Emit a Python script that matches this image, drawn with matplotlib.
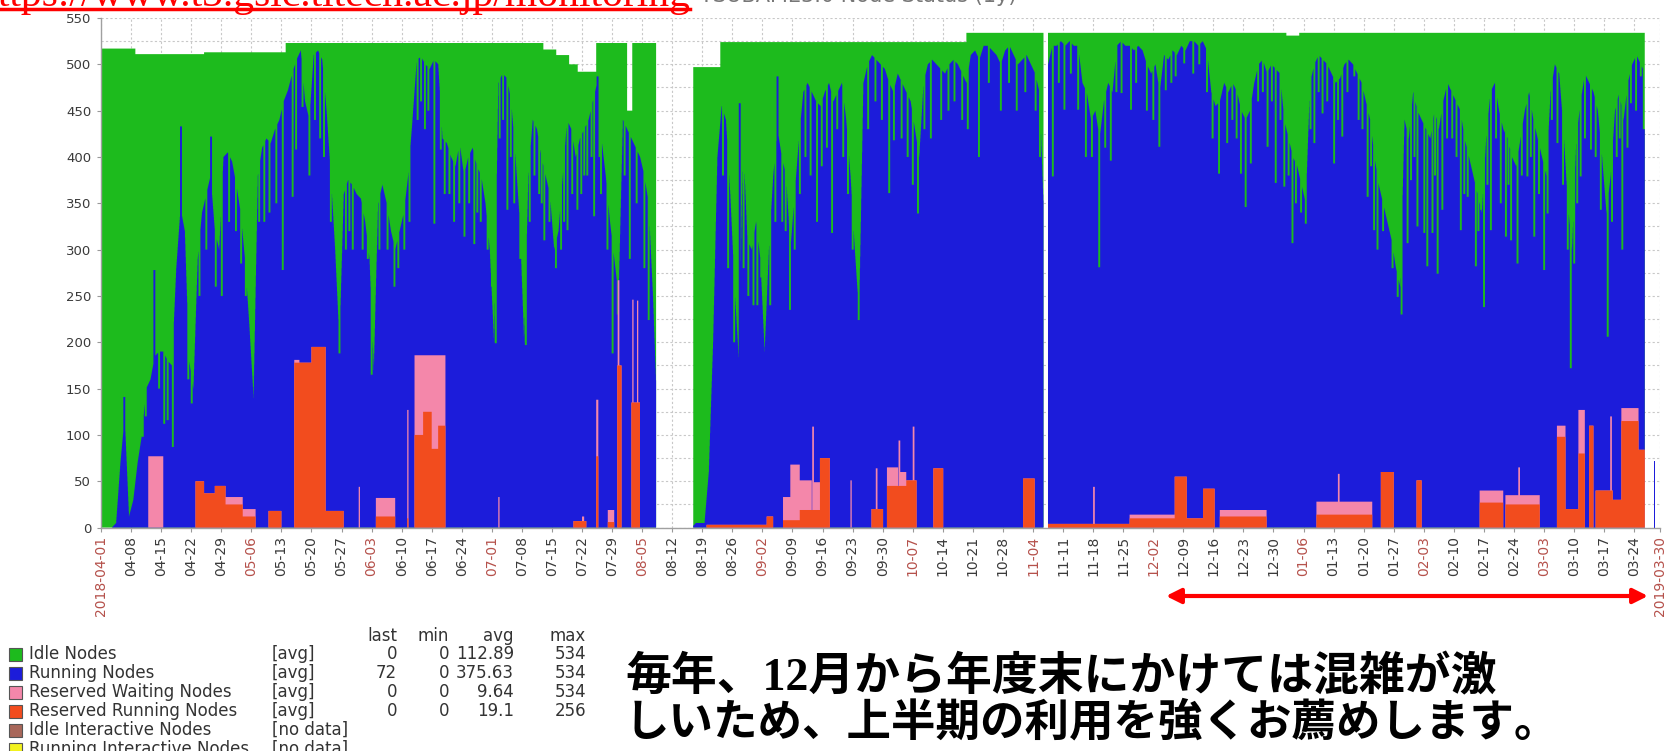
import numpy as np
import pandas as pd
import matplotlib.pyplot as plt
from matplotlib.patches import Rectangle

W, H = 1668, 751

# ---------------- data ----------------
start_date = pd.Timestamp('2018-04-01')
n_days = 363

# top of the blue area (running + reserved nodes), one value per day
busy_nodes = [
    0, 0, 0, 5, 70, 120, 12,
    30, 70, 100, 150, 160, 185, 190,
    190, 180, 175, 280, 345, 320, 180,
    150, 290, 340, 360, 380, 320, 300,
    400, 405, 395, 370, 340, 290, 220,
    140, 380, 410, 420, 415, 430, 440,
    460, 472, 490, 505, 515, 460, 440,
    510, 515, 505, 450, 380, 300, 200,
    360, 375, 370, 360, 355, 330, 290,
    170, 350, 370, 350, 320, 300, 320,
    340, 380, 440, 505, 508, 500, 495,
    505, 500, 420, 415, 400, 390, 415,
    380, 400, 410, 390, 380, 350, 300,
    200, 480, 490, 485, 460, 400, 330,
    200, 380, 440, 430, 400, 380, 360,
    300, 320, 380, 440, 430, 400, 420,
    430, 440, 460, 480, 420, 380, 330,
    290, 250, 440, 430, 420, 410, 400,
    380, 350, 250, 120, 0, 0, 0,
    0, 0, 0, 0, 0, 5, 5,
    5, 60, 200, 400, 455, 440, 360,
    260, 180, 420, 310, 300, 330, 290,
    190, 300, 380, 430, 400, 380, 300,
    360, 420, 470, 480, 470, 460, 455,
    470, 480, 460, 470, 480, 440, 380,
    300, 230, 480, 500, 510, 505, 500,
    495, 480, 470, 490, 480, 470, 460,
    430, 400, 480, 500, 505, 500, 495,
    490, 500, 505, 500, 490, 480, 510,
    515, 505, 520, 520, 515, 510, 500,
    515, 520, 510, 500, 505, 510, 500,
    490, 470, 340, 500, 520, 520, 525,
    520, 525, 520, 520, 480, 470, 440,
    450, 420, 460, 480, 470, 520, 525,
    520, 520, 515, 520, 515, 500, 490,
    500, 470, 510, 505, 515, 510, 520,
    515, 525, 525, 520, 525, 515, 470,
    455, 460, 480, 470, 480, 470, 450,
    440, 450, 480, 500, 505, 490, 500,
    495, 490, 440, 420, 400, 390, 370,
    350, 480, 500, 510, 505, 500, 490,
    480, 485, 500, 505, 500, 490, 480,
    460, 440, 400, 370, 350, 330, 310,
    280, 260, 440, 420, 470, 450, 440,
    430, 420, 450, 430, 460, 480, 470,
    460, 450, 420, 400, 380, 360, 340,
    420, 470, 480, 450, 430, 420, 400,
    390, 420, 450, 470, 440, 420, 400,
    380, 470, 500, 490, 430, 350, 300,
    420, 460, 490, 480, 470, 450, 400,
    340, 380, 450, 470, 440, 480, 500,
    510, 500, 490, 72, 72, 72,
]

# short drops of the busy level (thin green lines into the blue): (day, value)
busy_dips = [
    (9.5, 98), (10.2, 120), (13.3, 150), (14.5, 112), (15.3, 116), (16.5, 87),
    (20.1, 160), (20.9, 134), (22.7, 250), (24.3, 300), (26.5, 260), (27.9, 250),
    (29.6, 330), (31.2, 320), (32.4, 285), (33.5, 250), (36.6, 330), (37.8, 330),
    (39.0, 340), (40.6, 350), (42.1, 278), (44.4, 357), (45.2, 408), (46.7, 454),
    (48.3, 380), (49.6, 440), (50.8, 420), (51.7, 400), (53.3, 330), (55.3, 188),
    (56.8, 300), (57.6, 320), (58.4, 300), (60.7, 300), (61.9, 290), (62.8, 165),
    (64.6, 300), (66.5, 300), (68.1, 260), (69.0, 280), (70.4, 300), (71.6, 330),
    (73.5, 440), (74.3, 460), (75.2, 430), (76.0, 450), (77.4, 328), (78.9, 408),
    (79.8, 360), (80.9, 360), (82.0, 330), (83.2, 350), (84.4, 314), (85.5, 350),
    (86.7, 306), (87.4, 340), (88.2, 330), (89.8, 300), (90.8, 260), (91.7, 199),
    (92.6, 420), (93.4, 440), (94.4, 343), (95.2, 400), (96.0, 350), (97.4, 290),
    (98.7, 197), (99.6, 330), (100.7, 380), (101.8, 360), (102.4, 350), (103.0, 310),
    (104.2, 330), (105.7, 280), (106.9, 300), (107.6, 330), (108.4, 321), (109.5, 360),
    (110.7, 343), (111.6, 360), (112.3, 380), (113.0, 380), (114.0, 400), (114.6, 336),
    (115.8, 400), (116.2, 360), (117.7, 300), (118.9, 188), (120.1, 230),
    (121.7, 380), (122.9, 290), (124.5, 350), (126.3, 280), (127.3, 224),
    (144.6, 380), (145.8, 280), (147.2, 200), (149.4, 280), (150.5, 250), (151.7, 240),
    (152.6, 240), (153.5, 270), (155.6, 240), (156.8, 330), (158.4, 330), (159.2, 320),
    (160.2, 235), (161.3, 300), (162.5, 360), (163.8, 400), (165.0, 380), (166.5, 330),
    (167.6, 390), (168.8, 410), (170.0, 318), (171.2, 430), (172.6, 400), (173.7, 360),
    (174.8, 300), (176.2, 224), (178.4, 430), (180.1, 460), (181.6, 440), (183.3, 361),
    (184.4, 418), (186.2, 420), (187.6, 400), (188.8, 370), (190.0, 339), (191.5, 430),
    (193.0, 420), (195.4, 440), (197.1, 450), (198.5, 460), (200.3, 440), (201.6, 430),
    (204.2, 400), (206.5, 480), (209.3, 450), (211.2, 480), (213.0, 450), (215.0, 470),
    (217.4, 450), (218.4, 400), (221.4, 379), (222.8, 480), (224.1, 451), (225.6, 490),
    (227.3, 451), (229.1, 400), (230.5, 400), (232.2, 281), (233.6, 410), (234.9, 396),
    (236.2, 470), (237.4, 469), (239.6, 451), (240.8, 480),
    (243.3, 450), (244.8, 440), (246.2, 411), (247.7, 472), (249.0, 480), (250.0, 487),
    (252.0, 501), (254.1, 490), (255.5, 500), (257.3, 470), (258.6, 420), (260.1, 382),
    (262.0, 415), (263.2, 440), (264.2, 420), (265.2, 382), (266.3, 346), (267.5, 393),
    (269.2, 460), (270.3, 470), (271.4, 411), (272.4, 460), (273.3, 372), (274.4, 440),
    (275.3, 368), (276.3, 380), (277.2, 307), (278.0, 350), (279.2, 340), (280.3, 328),
    (281.4, 430), (282.3, 415), (283.3, 470), (284.2, 447), (285.3, 460), (286.9, 393),
    (287.8, 440), (288.8, 422), (290.0, 470), (291.6, 487), (292.6, 440), (293.5, 430),
    (294.7, 357), (295.5, 390), (296.2, 321), (297.0, 300), (298.3, 320), (299.7, 335),
    (300.5, 280), (301.7, 249), (302.6, 230), (304.0, 307), (304.8, 375), (305.6, 400),
    (306.3, 325), (307.9, 318), (308.6, 282), (309.8, 318), (310.4, 380), (311.0, 274),
    (312.1, 343), (313.2, 420), (314.4, 420), (315.4, 400), (316.4, 321), (317.2, 360),
    (318.0, 357), (319.9, 282), (320.5, 320), (321.1, 343), (321.8, 238), (322.6, 370),
    (323.4, 321), (324.6, 420), (325.7, 350), (326.9, 314), (327.5, 370), (328.1, 310),
    (329.6, 285), (330.6, 380), (331.9, 379), (332.7, 400), (333.5, 314), (334.6, 360),
    (335.8, 278), (336.6, 339), (337.6, 440), (338.9, 415), (340.2, 370), (341.3, 300),
    (342.0, 172), (342.8, 285), (343.5, 350), (344.3, 379), (345.3, 420), (346.7, 408),
    (347.8, 400), (349.0, 343), (350.6, 206), (351.6, 330), (352.7, 400), (353.4, 420),
    (354.0, 300), (355.2, 410), (356.0, 458), (357.2, 450), (358.3, 487), (359.0, 430),
]

# short rises of the busy level (thin blue lines into the green)
peak_day = [5.2, 12.2, 18.4, 25.4, 115.4, 148.5, 157.3]
peak_val = [141, 278, 433, 422, 487, 458, 487]

# online nodes (top of the green area), value holds from the given day; nan = no data
online_from = [0, 8, 24, 43, 103, 106, 109, 111, 115.3, 122.5, 123.7, 129.3, 137.9,
               144.2, 201.5, 219.5, 220.5, 276, 279, 359.5, 361.6, 361.9]
online_val = [517, 511, 513, 523, 516, 510, 500, 492, 523, 450, 523, np.nan, 497,
              524, 534, np.nan, 534, 531, 534, np.nan, 72, np.nan]

# Reserved Running Nodes blocks
rr_from = [22, 24, 26.5, 29, 33, 39, 45, 49, 52.3, 64, 71.3, 73, 75, 77, 78.5, 110,
           115.3, 118, 120.2, 123.5, 141, 155, 158.8, 162.7, 167.4, 179.4, 183, 187.5,
           193.8, 214.7, 220.5, 239.5, 250, 252.8, 256.6, 260.5, 283, 298, 306.3, 321,
           327, 339, 341, 344, 346.5, 348, 352, 354, 358]
rr_to = [24, 26.5, 29, 33, 36, 42, 49, 52.3, 56.5, 68.5, 71.6, 75, 77, 78.5, 80.2, 113,
         115.8, 119.5, 121.2, 125.5, 155, 156.5, 162.7, 167.4, 169.7, 182.1, 187.5, 189.9,
         196.1, 217.4, 239.5, 250, 252.8, 256.6, 259.3, 271.4, 296, 301, 307.5, 326.5,
         335, 341, 344, 345.5, 347.5, 352, 354, 358, 359.5]
rr_val = [50, 37, 45, 25, 12, 18, 178, 195, 18, 12, 10, 100, 125, 85, 110, 7,
          77, 6, 175, 135, 3, 12, 8, 19, 75, 20, 45, 51,
          64, 53, 4, 10, 55, 10, 42, 12, 14, 60, 51, 27,
          25, 98, 20, 80, 110, 40, 30, 115, 84]

# Reserved Waiting Nodes blocks
rw_from = [11, 29, 33, 45, 60, 64, 71.3, 73, 75, 77, 78.5, 92.5, 112, 115.3, 118,
           120.3, 123.7, 124.8, 158.8, 160.5, 162.7, 165.6, 166, 174.5, 180.4, 183,
           185.7, 186.1, 189, 231, 239.5, 260.5, 283, 288, 321, 327, 330, 339, 344,
           351.4, 354]
rw_to = [14.5, 33, 36, 46.2, 60.3, 68.5, 71.6, 75, 77, 78.5, 80.2, 92.8, 112.5, 115.8,
         119.5, 120.7, 124, 125.1, 160.5, 162.7, 165.5, 166, 167.4, 174.8, 180.8, 185.6,
         186.1, 187.5, 189.4, 231.4, 250, 271.4, 296, 288.4, 326.5, 335, 330.4, 341,
         345.5, 351.8, 358]
rw_val = [77, 8, 8, 3, 44, 20, 117, 86, 61, 101, 76, 33, 5, 61, 13,
          92, 111, 110, 25, 60, 32, 90, 30, 51, 44, 20,
          49, 15, 58, 40, 4, 7, 14, 30, 13, 10, 30, 12, 47,
          80, 14]

legend_names = ['Idle Nodes', 'Running Nodes', 'Reserved Waiting Nodes',
                'Reserved Running Nodes', 'Idle Interactive Nodes',
                'Running Interactive Nodes']
legend_func = ['[avg]', '[avg]', '[avg]', '[avg]', '[no data]', '[no data]']
legend_last = ['0', '72', '0', '0', '', '']
legend_min = ['0', '0', '0', '0', '', '']
legend_avg = ['112.89', '375.63', '9.64', '19.1', '', '']
legend_max = ['534', '534', '534', '256', '', '']
legend_colors = ['#1DBB1D', '#1C1CDA', '#F487AA', '#F24C1E', '#A8675A', '#F2F21E']

c_idle, c_run, c_rw, c_rr = legend_colors[:4]

# ---------------- build the stacked series ----------------
t = np.arange(0, n_days, 0.05)
# daily samples sit at mid-day, joined by straight segments like a line chart
busy_t = np.interp(t, np.arange(n_days) + 0.5, np.asarray(busy_nodes, float))
for d, v in busy_dips:
    m = (t >= d) & (t < d + 0.45)
    busy_t[m] = np.minimum(busy_t[m], v)
for d, v in zip(peak_day, peak_val):
    m = (t >= d) & (t < d + 0.45)
    busy_t[m] = np.maximum(busy_t[m], v)

online_t = np.asarray(online_val, float)[np.searchsorted(online_from, t, side='right') - 1]

rr_t = np.zeros_like(t)
for a, b, v in zip(rr_from, rr_to, rr_val):
    rr_t[(t >= a) & (t < b)] += v
rw_t = np.zeros_like(t)
for a, b, v in zip(rw_from, rw_to, rw_val):
    rw_t[(t >= a) & (t < b)] += v

top_rr = rr_t
top_rw = rr_t + rw_t
top_run = np.maximum(busy_t, top_rw)
top_idle = np.maximum(online_t, top_run)
gap = np.isnan(online_t)
for arr in (top_rr, top_rw, top_run, top_idle):
    arr[gap] = np.nan

# ---------------- figure ----------------
fig = plt.figure(figsize=(W / 100, H / 100), dpi=100)
ax = fig.add_axes([101 / W, 1 - 527.6 / H, (1660 - 101) / W, (527.6 - 18) / H])

for top, col in [(top_idle, c_idle), (top_run, c_run), (top_rw, c_rw), (top_rr, c_rr)]:
    ax.fill_between(t, 0, top, step='post', color=col, linewidth=0, zorder=2)

ax.set_xlim(0, n_days)
ax.set_ylim(0, 550)

tick_days = list(range(0, 358, 7)) + [n_days]
tick_labels, tick_colors = [], []
for i, d in enumerate(tick_days):
    dt = start_date + pd.Timedelta(days=d)
    if i == 0 or i == len(tick_days) - 1:
        tick_labels.append(dt.strftime('%Y-%m-%d'))
        tick_colors.append('#B5514B')
    else:
        tick_labels.append(dt.strftime('%m-%d'))
        tick_colors.append('#B5514B' if dt.day <= 7 else '#3A3A3A')
ax.set_xticks(tick_days)
ax.set_xticklabels(tick_labels, rotation=90, fontsize=10, va='top', ha='center')
for lab, col in zip(ax.get_xticklabels(), tick_colors):
    lab.set_color(col)

ax.set_yticks(np.arange(0, 551, 50))
ax.set_yticks(np.arange(25, 551, 50), minor=True)
ax.tick_params(axis='y', which='major', labelsize=9.5, labelcolor='#3A3A3A',
               length=3, color='#999999', pad=4)
ax.tick_params(axis='y', which='minor', length=0)
ax.tick_params(axis='x', length=3, color='#999999', pad=3)

ax.set_axisbelow(True)
ax.grid(True, which='both', axis='y', color='#c8c8c8', linestyle=(0, (2, 2)), linewidth=0.8)
ax.grid(True, which='major', axis='x', color='#c8c8c8', linestyle=(0, (2, 2)), linewidth=0.8)
for s in ('top', 'right'):
    ax.spines[s].set_visible(False)
for s in ('left', 'bottom'):
    ax.spines[s].set_color('#a0a0a0')
    ax.spines[s].set_linewidth(1)

# overlay in pixel coordinates for title, legend, message and arrow
ov = fig.add_axes([0, 0, 1, 1])
ov.set_xlim(0, W)
ov.set_ylim(H, 0)
ov.axis('off')

ov.text(690, 6, 'https://www.t3.gsic.titech.ac.jp/monitoring', ha='right', va='baseline',
        color='red', fontsize=30, family='Liberation Serif')
ov.plot([0, 690], [9, 9], color='red', lw=2.5)
ov.text(700, 2, 'TSUBAME3.0 Node Status (1y)', ha='left', va='baseline',
        color='#777777', fontsize=15)

# legend
fs = 12
row_y = [654, 673, 692, 711, 730, 749]
ov.text(397, 636, 'last', ha='right', va='center', fontsize=fs, color='#333333')
ov.text(449, 636, 'min', ha='right', va='center', fontsize=fs, color='#333333')
ov.text(514, 636, 'avg', ha='right', va='center', fontsize=fs, color='#333333')
ov.text(586, 636, 'max', ha='right', va='center', fontsize=fs, color='#333333')
for y, name, fn, la, mi, av, mx, col in zip(row_y, legend_names, legend_func, legend_last,
                                           legend_min, legend_avg, legend_max, legend_colors):
    ov.add_patch(Rectangle((9, y - 6.5), 13, 13, facecolor=col, edgecolor='#555555', lw=0.8))
    ov.text(29, y, name, ha='left', va='center', fontsize=fs, color='#333333')
    ov.text(272, y, fn, ha='left', va='center', fontsize=fs, color='#333333')
    ov.text(397, y, la, ha='right', va='center', fontsize=fs, color='#333333')
    ov.text(449, y, mi, ha='right', va='center', fontsize=fs, color='#333333')
    ov.text(514, y, av, ha='right', va='center', fontsize=fs, color='#333333')
    ov.text(586, y, mx, ha='right', va='center', fontsize=fs, color='#333333')

# message
jp_font = ['Liberation Serif', 'Noto Sans CJK JP']
ov.text(625, 678, '毎年、12月から年度末にかけては混雑が激', ha='left', va='center',
        fontsize=33, fontweight='bold', family=jp_font, color='black')
ov.text(625, 723, 'しいため、上半期の利用を強くお薦めします。', ha='left', va='center',
        fontsize=32, fontweight='bold', family=jp_font, color='black')

# red double arrow over December - March
ov.annotate('', xy=(1648, 596), xytext=(1166, 596),
            arrowprops=dict(arrowstyle='<|-|>', color='red', lw=3, mutation_scale=22,
                            shrinkA=0, shrinkB=0))

fig.savefig('out.png', dpi=100)
